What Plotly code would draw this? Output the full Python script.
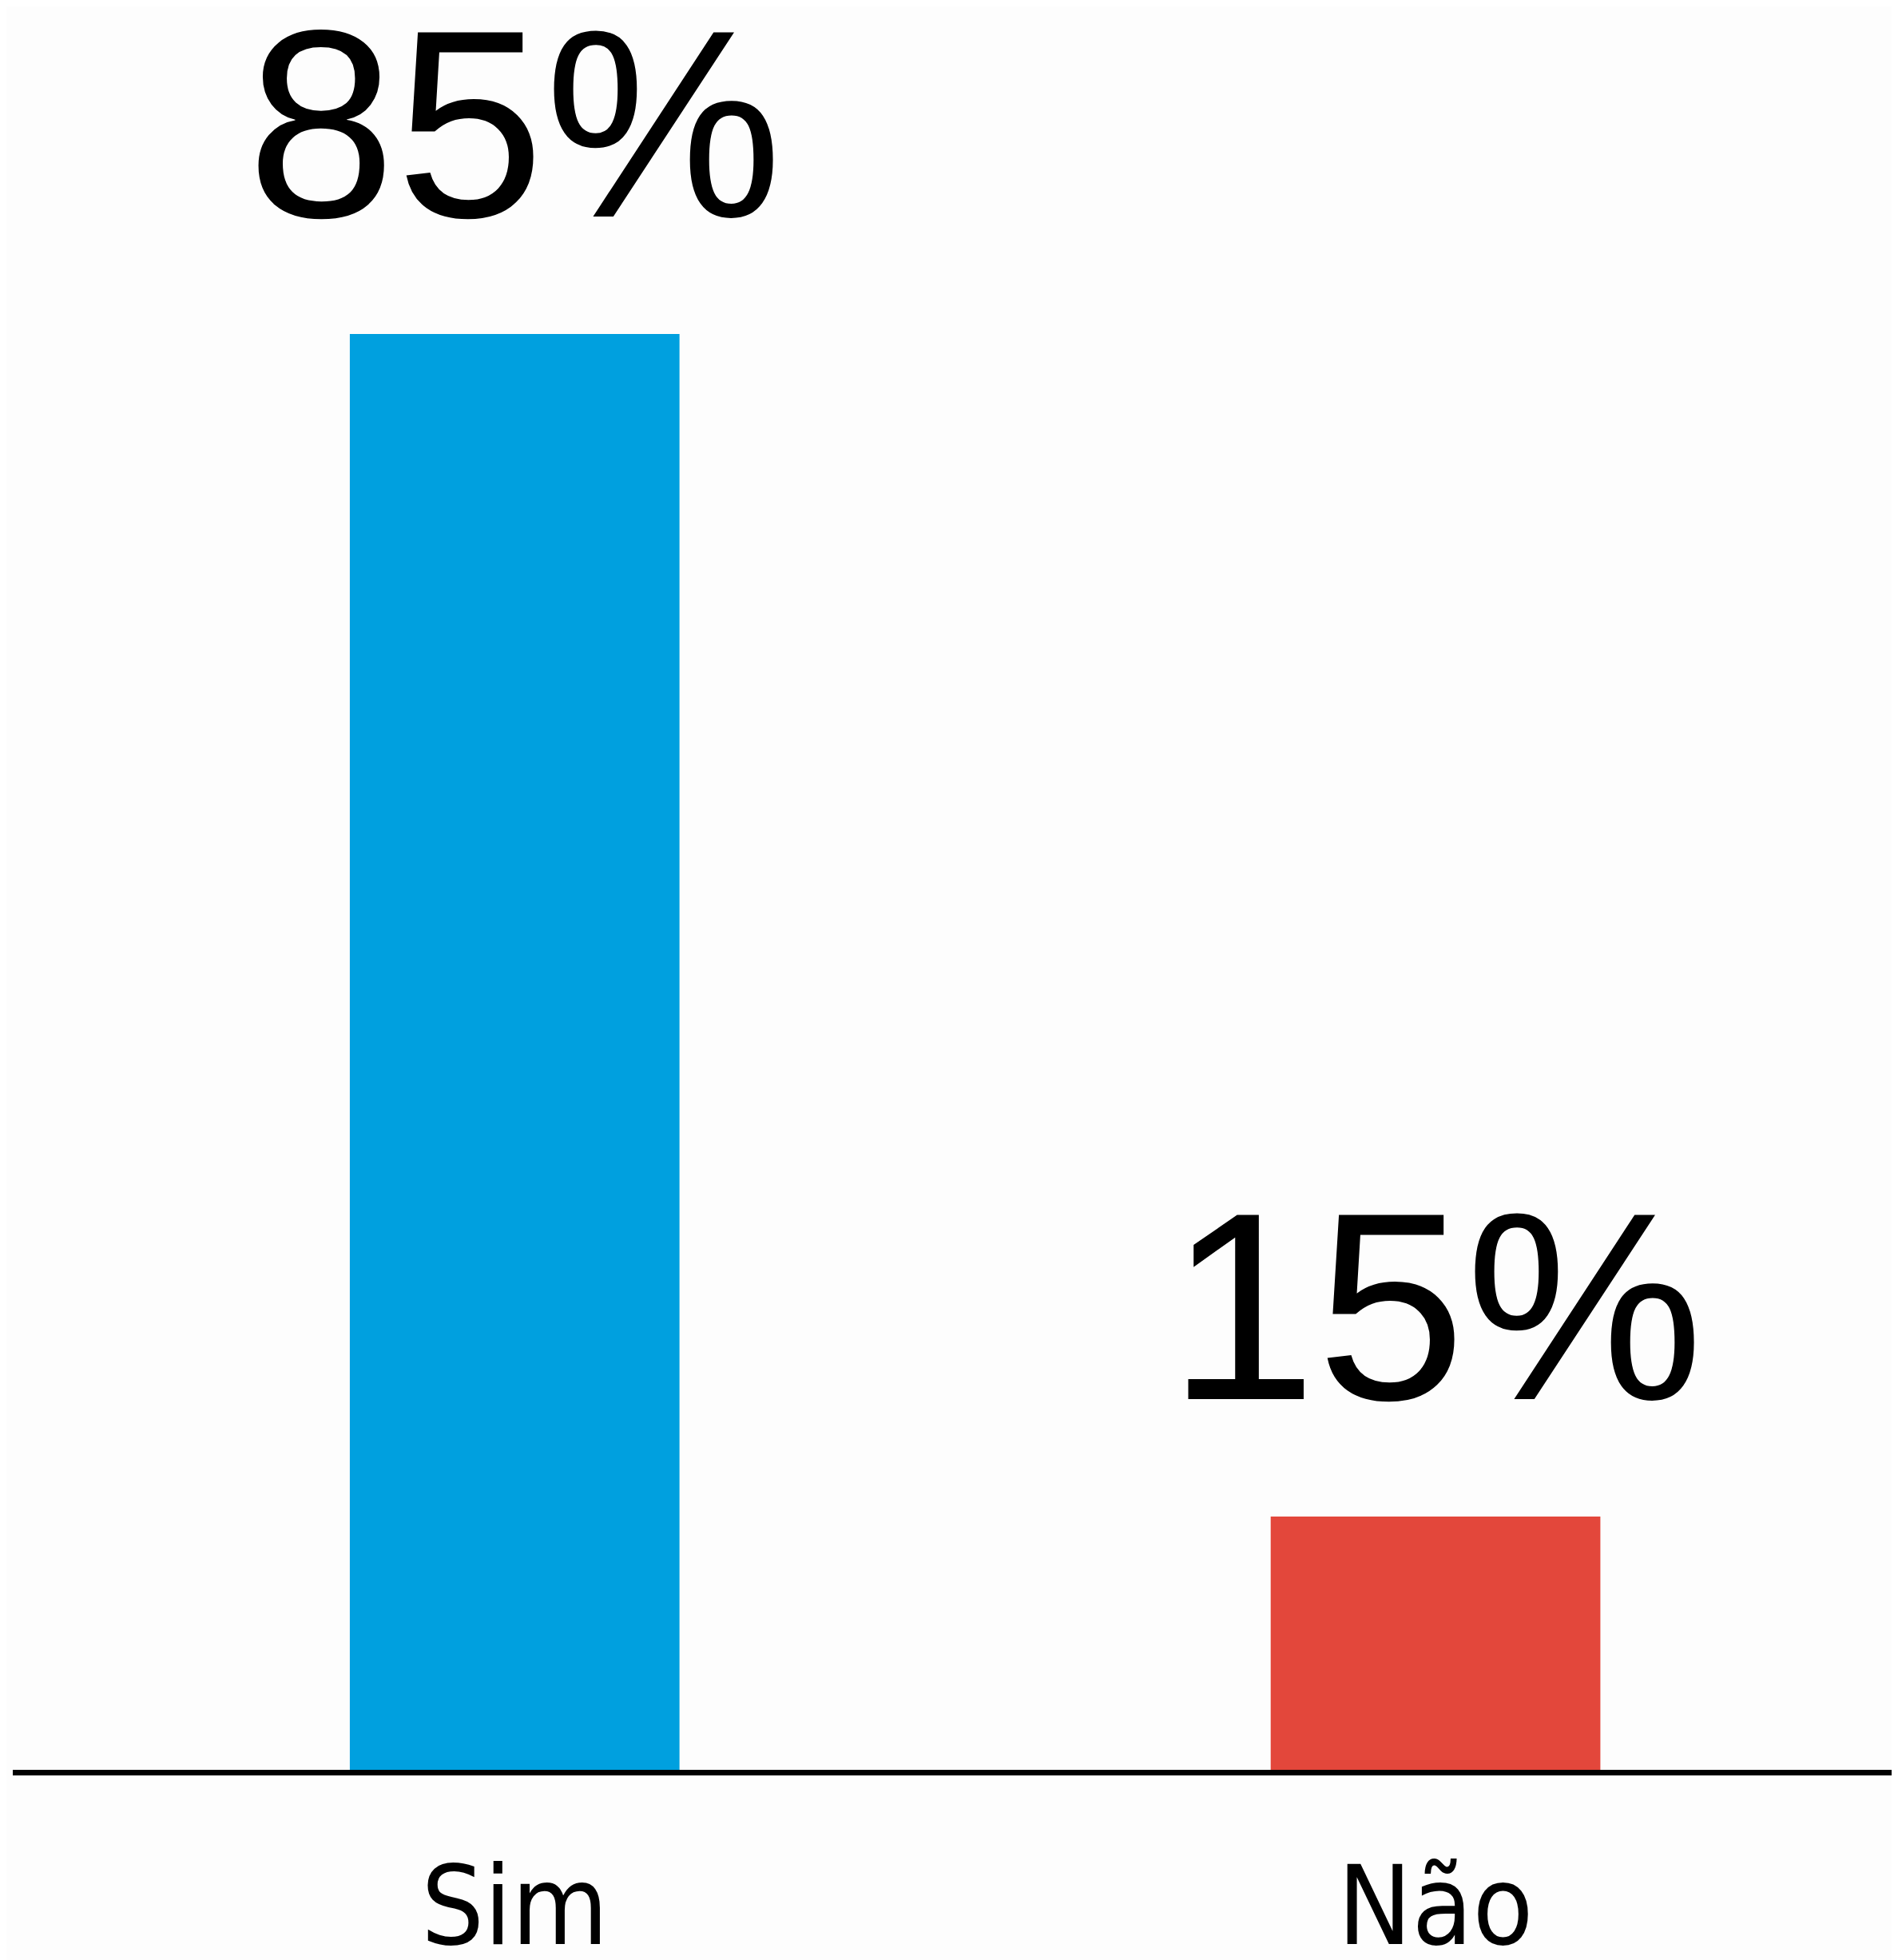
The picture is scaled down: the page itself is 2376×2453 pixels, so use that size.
import plotly.graph_objects as go

categories = ["Sim", "Não"]
values = [85, 15]
labels = ["85%", "15%"]
colors = ["#00A0DF", "#E3473B"]

# page body has an 8px default margin, so the figure is sized to fit the window
W, H = 2368, 2445
fig = go.Figure()
fig.add_trace(go.Bar(x=categories, y=values, marker=dict(color=colors, line=dict(width=0)),
                     width=0.358, hoverinfo="skip"))

for c, v, t in zip(categories, values, labels):
    fig.add_annotation(x=c, y=v, text=t, showarrow=False, yanchor="bottom", xanchor="center",
                       yshift=75, borderpad=0,
                       font=dict(family="Liberation Sans, Arial, sans-serif", size=335, color="#000000"))

fig.update_layout(
    width=W, height=H,
    margin=dict(l=8, r=6, t=0, b=238, pad=0),
    paper_bgcolor="#FDFDFD", plot_bgcolor="#FDFDFD",
    showlegend=False,
    xaxis=dict(range=[-0.545, 1.497], showline=True, linecolor="#000000", linewidth=7,
               automargin=False,
               showgrid=False, zeroline=False, ticks="outside", ticklen=45, tickcolor="rgba(0,0,0,0)",
               tickfont=dict(family="Liberation Sans Narrow, DejaVu Sans Condensed, Arial Narrow, sans-serif",
                             size=138, color="#000000")),
    yaxis=dict(range=[0, 104.4], visible=False, showgrid=False, zeroline=False, automargin=False),
)
fig.write_html("out.html")
